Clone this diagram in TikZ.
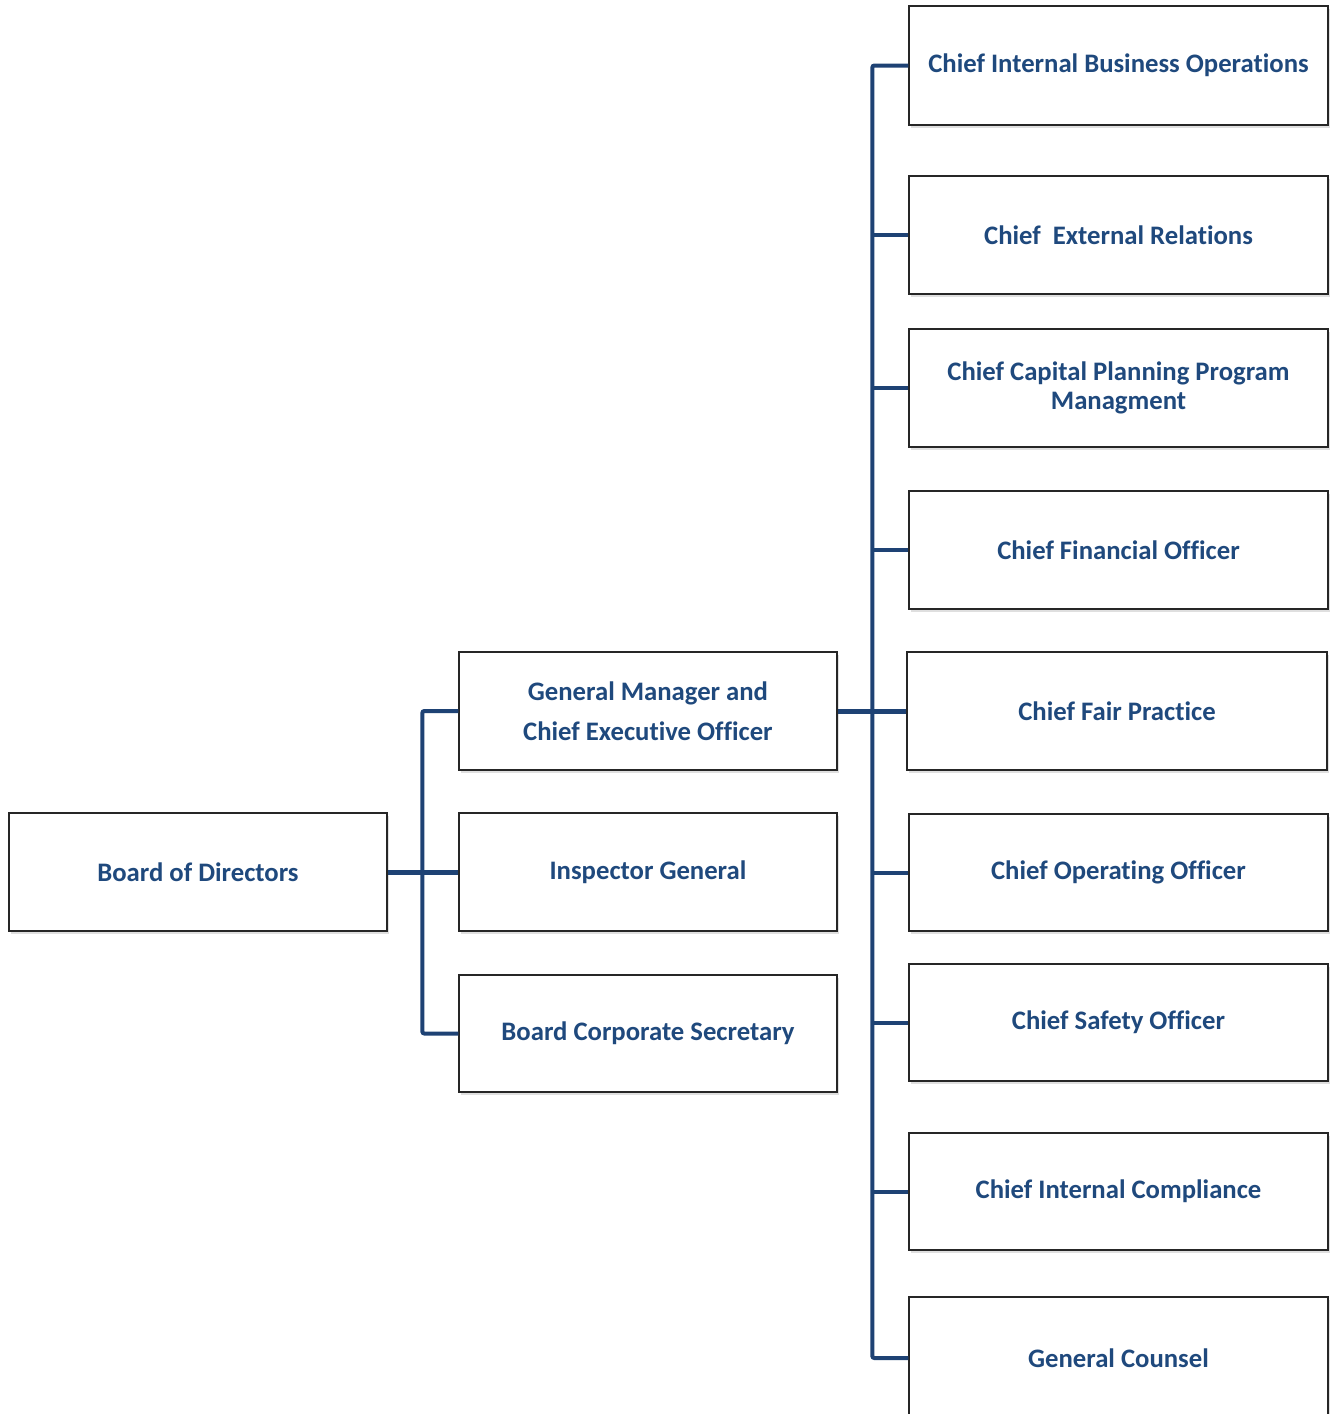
\documentclass[tikz,border=0pt]{standalone}
\usepackage{fontspec}
\setmainfont{Carlito}[Ligatures=NoCommon]
\usetikzlibrary{shadows}
\definecolor{tblue}{RGB}{31,73,125}
\definecolor{lblue}{RGB}{30,66,116}
\begin{document}
\begin{tikzpicture}[x=1pt,y=-1pt,
  box/.style={draw=black!85, line width=1.3pt, fill=white, inner sep=0pt,
    minimum height=118pt, align=center, text=tblue,
    font=\fontsize{26.7}{32}\selectfont\bfseries,
    drop shadow={opacity=0.25, shadow xshift=2pt, shadow yshift=-3pt}},
  midbox/.style={box, minimum width=378pt},
  widebox/.style={box, minimum width=419pt},
  conn/.style={draw=lblue, line width=4pt, rounded corners=2pt},
  thick conn/.style={conn, line width=5pt}]
\useasboundingbox (0,0) rectangle (1331,1414);
\fill[white] (0,0) rectangle (1331,1414);

\node[midbox] (board) at (198,872) {Board of Directors};
\node[midbox] (gm) at (648,711) {General Manager and\\[8pt]Chief Executive Officer};
\node[midbox] (ig) at (648,872) {Inspector General};
\node[midbox, minimum height=117pt] (bcs) at (648,1033.5) {Board Corporate Secretary};

\node[widebox, minimum height=119pt] (cibo) at (1118.5,65.5) {Chief Internal Business Operations};
\node[widebox] (cer) at (1118.5,235) {Chief~ External Relations};
\node[widebox] (ccp) at (1118.5,388) {Chief Capital Planning Program\\[-3pt]Managment};
\node[widebox] (cfo) at (1118.5,550) {Chief Financial Officer};
\node[widebox, minimum width=420pt] (cfp) at (1117,711) {Chief Fair Practice};
\node[widebox, minimum height=117pt] (coo) at (1118.5,872.5) {Chief Operating Officer};
\node[widebox, minimum height=117pt] (cso) at (1118.5,1022.5) {Chief Safety Officer};
\node[widebox, minimum height=117pt] (cic) at (1118.5,1191.5) {Chief Internal Compliance};
\node[widebox, minimum height=122pt] (gc) at (1118.5,1358) {General Counsel};

% left tree
\draw[conn] (gm.west) -- ++(-36,0) |- (bcs.west);
\draw[thick conn] (board.east) -- (ig.west);

% right tree
\draw[conn] (cibo.west) -- ++(-36,0) |- (gc.west);
\draw[thick conn] (gm.east) -- (cfp.west);
\foreach \n in {cer,ccp,cfo,coo,cso,cic}
  \draw[conn] (\n.west) -- ++(-36,0);
\end{tikzpicture}
\end{document}
